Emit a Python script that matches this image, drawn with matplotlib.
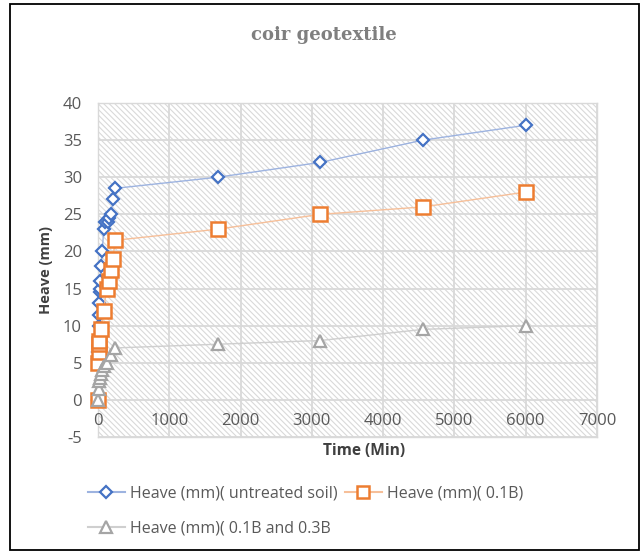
import matplotlib
matplotlib.use("Agg")
import matplotlib.pyplot as plt
from matplotlib.patches import Rectangle
from matplotlib.lines import Line2D

plt.rcParams["axes.unicode_minus"] = False

# ---- data ----
t_untreated = [0, 2, 5, 10, 15, 20, 25, 30, 35, 45, 60, 80, 100, 140, 160, 180, 215, 240, 1680, 3120, 4560, 6000]
h_untreated = [0, 5.5, 6.5, 10, 11.5, 13, 14.5, 15, 16, 18, 20, 23, 24, 24, 24.5, 25, 27, 28.5, 30, 32, 35, 37]

t_01B = [0, 5, 10, 15, 20, 40, 80, 120, 150, 180, 210, 240, 1680, 3120, 4560, 6000]
h_01B = [0, 5, 6.5, 7.5, 8, 9.5, 12, 15, 16, 17.5, 19, 21.5, 23, 25, 26, 28]

t_0103B = [0, 10, 20, 30, 40, 60, 90, 120, 180, 240, 1680, 3120, 4560, 6000]
h_0103B = [0, 1.5, 2.5, 3, 3.5, 4, 4.5, 5, 6, 7, 7.5, 8, 9.5, 10]

labels = ["Heave (mm)( untreated soil)", "Heave (mm)( 0.1B)", "Heave (mm)( 0.1B and 0.3B"]
x_ticks = [0, 1000, 2000, 3000, 4000, 5000, 6000, 7000]
y_ticks = [-5, 0, 5, 10, 15, 20, 25, 30, 35, 40]
title = "coir geotextile"

W, H = 641, 553
fig = plt.figure(figsize=(W / 100, H / 100), dpi=100)
fig.patch.set_facecolor("white")

# outer frame
fig.add_artist(Rectangle((10 / W, 1 - 550 / H), 629 / W, 546 / H, transform=fig.transFigure,
                         fill=False, edgecolor="black", linewidth=1.3))

L, R, T, B = 98, 597, 103, 437
ax = fig.add_axes([L / W, 1 - B / H, (R - L) / W, (B - T) / H])
ax.set_xlim(0, 7000)
ax.set_ylim(-5, 40)
ax.set_facecolor("white")
plt.rcParams["hatch.linewidth"] = 0.8
ax.add_patch(Rectangle((0, 0), 1, 1, transform=ax.transAxes, facecolor="white",
                       edgecolor="#d9d9d9", hatch="\\\\\\\\\\\\", linewidth=0, zorder=0))

ax.set_xticks(x_ticks)
ax.set_yticks(y_ticks)
ax.grid(True, color="#d9d9d9", linewidth=1.3, zorder=1)
ax.set_axisbelow(True)
for s in ax.spines.values():
    s.set_color("#d9d9d9")
    s.set_linewidth(1.0)
ax.tick_params(length=0, labelsize=12, labelcolor="#595959", pad=11.5)
for lab in ax.get_yticklabels():
    lab.set_fontfamily("Open Sans")

# x tick labels placed just below y=0 (axis crossing)
ax.set_xticklabels([])
for xv in x_ticks:
    ax.text(xv, -2.8, str(xv), ha="center", va="center", fontsize=12, color="#595959",
            family="Open Sans", transform=ax.transData)

ax.plot(t_untreated, h_untreated, color="#9db3e0", linewidth=1.0, zorder=3,
        marker="D", markersize=6.5, markerfacecolor="white", markeredgecolor="#4472C4",
        markeredgewidth=1.6, clip_on=False)
ax.plot(t_01B, h_01B, color="#f6bf99", linewidth=1.0, zorder=4,
        marker="s", markersize=9.5, markerfacecolor="white", markeredgecolor="#ED7D31",
        markeredgewidth=1.8, clip_on=False)
ax.plot(t_0103B, h_0103B, color="#cfcfcf", linewidth=1.0, zorder=5,
        marker="^", markersize=9, markerfacecolor="white", markeredgecolor="#A5A5A5",
        markeredgewidth=1.6, clip_on=False)

fig.text(324 / W, 1 - 35 / H, title, ha="center", va="center", fontsize=13,
         fontweight="bold", color="#7f7f7f", family="DejaVu Serif")
fig.text(46 / W, 1 - 270 / H, "Heave (mm)", rotation=90, ha="center", va="center",
         fontsize=10.5, fontweight="bold", color="#404040", family="Open Sans")
fig.text(364 / W, 1 - 451 / H, "Time (Min)", ha="center", va="center",
         fontsize=11.2, fontweight="bold", color="#404040", family="Open Sans")

h1 = Line2D([], [], color="#9db3e0", marker="D", markersize=6, markerfacecolor="white",
            markeredgecolor="#4472C4", markeredgewidth=1.6)
h2 = Line2D([], [], color="#f6bf99", marker="s", markersize=8, markerfacecolor="white",
            markeredgecolor="#ED7D31", markeredgewidth=1.8)
h3 = Line2D([], [], color="#cfcfcf", marker="^", markersize=8, markerfacecolor="white",
            markeredgecolor="#A5A5A5", markeredgewidth=1.6)
leg = fig.legend([h1, h3, h2], [labels[0], labels[2], labels[1]], ncol=2,
                 loc="upper left", bbox_to_anchor=(80 / W, 1 - 478 / H), frameon=False,
                 prop={"family": "Open Sans", "size": 11.5}, handlelength=2.3,
                 handletextpad=0.35, columnspacing=0.45, labelspacing=1.15, borderpad=0)
for t in leg.get_texts():
    t.set_color("#595959")

fig.savefig("out.png", dpi=100)
